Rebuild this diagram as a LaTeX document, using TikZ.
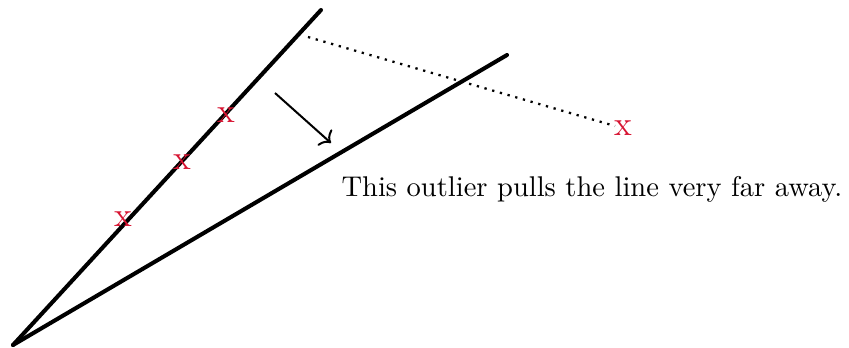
\documentclass[tikz,border=0pt]{standalone}
\usetikzlibrary{arrows.meta}
\begin{document}
\begin{tikzpicture}[x=0.3505pt,y=-0.3505pt,
  fitline/.style={line width=1.42pt,line cap=round},
  pt/.style={text={rgb,255:red,215;green,20;blue,50},inner sep=0pt,font=\large},
  movearrow/.style={line width=0.7pt,-{To[length=3.2pt,width=7.5pt]}},
  resid/.style={line width=0.8pt,dotted}]
\useasboundingbox (0,0) rectangle (849,347);
\coordinate (o) at (13,345);
\coordinate (a) at (321,10);
\coordinate (b) at (507,55);
\coordinate (d1) at (308,37);
\coordinate (d2) at (615,126);
\coordinate (s1) at (275,93);
\coordinate (s2) at (331,143);
\draw[fitline] (o) -- (a);
\draw[fitline] (o) -- (b);
\draw[resid] (d1) -- (d2);
\draw[movearrow] (s1) -- (s2);
\node[pt] (p1) at (226,115) {x};
\node[pt] (p2) at (182,162) {x};
\node[pt] (p3) at (123,219) {x};
\node[pt] (p4) at (623,128) {x};
\node[anchor=base west,inner sep=0pt] (t) at (341,196) {This outlier pulls the line very far away.};
\end{tikzpicture}
\end{document}
